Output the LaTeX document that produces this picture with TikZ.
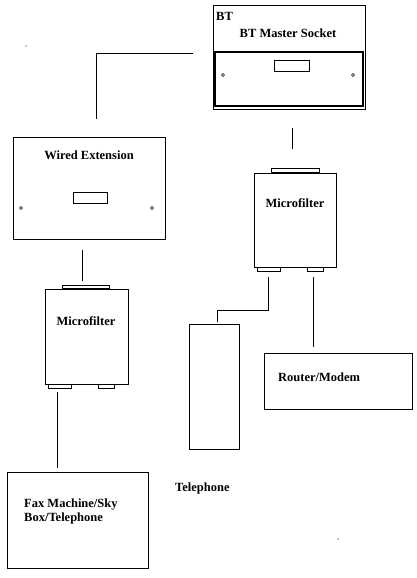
\documentclass[tikz,border=0pt]{standalone}
\usepackage{fontspec}
\setmainfont{Liberation Serif}
\begin{document}
\begin{tikzpicture}[x=1pt,y=-1pt,
  box/.style={draw=black,line width=0.8pt,rectangle,inner sep=0pt,outer sep=0pt},
  thickbox/.style={draw=black,line width=1.7pt,rectangle,inner sep=0pt,outer sep=0pt},
  lbl/.style={font=\fontsize{12.5}{14}\selectfont\bfseries,inner sep=0pt},
  hole/.style={draw=black,line width=0.6pt,circle,minimum size=3pt,inner sep=0pt},
  wire/.style={draw=black,line width=0.8pt}]
\useasboundingbox (0,0) rectangle (417,578);
\fill[white] (0,0) rectangle (417,578);
% BT master socket
\node[box,minimum width=152pt,minimum height=104pt] (bt) at (289,57) {};
\node[thickbox,minimum width=148pt,minimum height=54pt] (btin) at (289,79) {};
\node[box,minimum width=35pt,minimum height=11pt] (btslot) at (291.5,65.5) {};
\node[hole] (bth1) at (223,75) {};
\node[hole] (bth2) at (353,75) {};
\node[lbl,anchor=west] (btl) at (216,16) {BT};
\node[lbl] (btt) at (288,33) {BT Master Socket};
% Wired extension
\node[box,minimum width=152pt,minimum height=102pt] (we) at (89,188) {};
\node[lbl] (wet) at (89,155) {Wired Extension};
\node[box,minimum width=34pt,minimum height=11pt] (weslot) at (90,197.5) {};
\node[hole] (weh1) at (21,208) {};
\node[hole] (weh2) at (152,208) {};
% Microfilter right
\node[box,minimum width=48pt,minimum height=5pt] (mfrtop) at (295,170.5) {};
\draw[line width=1.5pt] (mfrtop.south west) -- (mfrtop.south east);
\node[box,minimum width=82pt,minimum height=94pt] (mfr) at (295,220) {};
\node[lbl] (mfrt) at (295,203) {Microfilter};
\node[box,minimum width=23pt,minimum height=4pt] (mfrb1) at (268.5,269) {};
\node[box,minimum width=16pt,minimum height=4pt] (mfrb2) at (315,269) {};
% Microfilter left
\node[box,minimum width=47pt,minimum height=4pt] (mfltop) at (85.5,287) {};
\draw[line width=1.5pt] (mfltop.south west) -- (mfltop.south east);
\node[box,minimum width=83pt,minimum height=95pt] (mfl) at (86.5,336.5) {};
\node[lbl] (mflt) at (86,321) {Microfilter};
\node[box,minimum width=23pt,minimum height=4pt] (mflb1) at (59.5,386) {};
\node[box,minimum width=16pt,minimum height=4pt] (mflb2) at (106,386) {};
% Telephone
\node[box,minimum width=50pt,minimum height=125pt] (tel) at (214,386.5) {};
\node[lbl,anchor=west] (telt) at (175,488) {Telephone};
% Router
\node[box,minimum width=148pt,minimum height=56pt] (rt) at (338,381) {};
\node[lbl,anchor=west] (rtt) at (278,377) {Router/Modem};
% Fax
\node[box,minimum width=141pt,minimum height=96pt] (fax) at (77.5,520) {};
\node[lbl,anchor=north west,align=left] (faxt) at (24,498.5) {Fax Machine/Sky\\Box/Telephone};
% dots
\fill (26,46) circle (0.6pt);
\fill (338,539) circle (0.6pt);
% wires
\coordinate (a1) at (193,53);
\coordinate (a2) at (96,53);
\coordinate (a3) at (96,119);
\draw[wire] (a1) -- (a2) -- (a3);
\coordinate (b1) at (292,128);
\coordinate (b2) at (292,149);
\draw[wire] (b1) -- (b2);
\coordinate (c1) at (268,277);
\coordinate (c2) at (268,310);
\coordinate (c3) at (217,310);
\coordinate (c4) at (217,322);
\draw[wire] (c1) -- (c2) -- (c3) -- (c4);
\coordinate (d1) at (313,277);
\coordinate (d2) at (313,347);
\draw[wire] (d1) -- (d2);
\coordinate (e1) at (82,250);
\coordinate (e2) at (82,281);
\draw[wire] (e1) -- (e2);
\coordinate (f1) at (57,392);
\coordinate (f2) at (57,468);
\draw[wire] (f1) -- (f2);
\end{tikzpicture}
\end{document}
